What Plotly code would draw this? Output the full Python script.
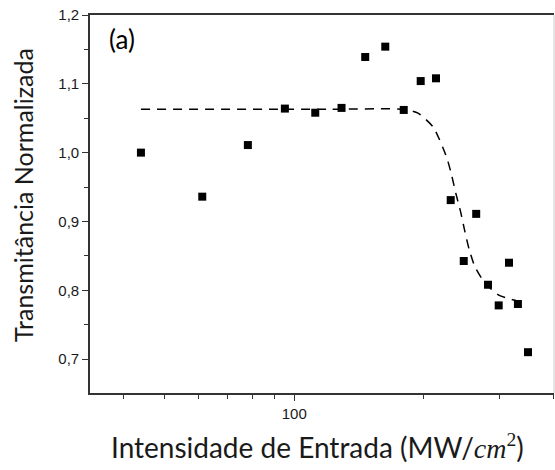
import plotly.graph_objects as go

# Data
intensity = [44.0, 61.1, 78.0, 95.1, 111.9, 128.8, 146.2, 162.8, 179.7, 196.8,
             213.6, 231.1, 247.8, 264.9, 282.2, 298.8, 315.8, 331.2, 349.6]
transmit = [1.000, 0.936, 1.011, 1.064, 1.058, 1.065, 1.139, 1.154, 1.062, 1.104,
            1.108, 0.931, 0.8425, 0.911, 0.808, 0.778, 0.840, 0.780, 0.710]

fit_x = [44.0, 120.0, 180.0, 194.0, 210.5, 226.2, 232.3, 237.7, 243.8, 249.5,
         255.2, 263.2, 277.6, 298.8, 327.8]
fit_y = [1.063, 1.063, 1.063, 1.0575, 1.037, 0.993, 0.967, 0.940, 0.9135, 0.8845,
         0.859, 0.834, 0.8106, 0.793, 0.785]

y_ticks = [0.7, 0.8, 0.9, 1.0, 1.1, 1.2]
y_ticktext = ["0,7", "0,8", "0,9", "1,0", "1,1", "1,2"]
y_minor = [0.75, 0.85, 0.95, 1.05, 1.15]
x_ticks = [100]
x_ticktext = ["100"]
x_minor = [40, 50, 60, 70, 80, 90, 200, 300, 400]

fig = go.Figure()
fig.add_trace(go.Scatter(
    x=fit_x, y=fit_y, mode="lines",
    line=dict(color="black", width=1.5, dash="9px,7px", shape="spline", smoothing=0.6),
    hoverinfo="skip", showlegend=False))
fig.add_trace(go.Scatter(
    x=intensity, y=transmit, mode="markers",
    marker=dict(symbol="square", size=8, color="black"),
    showlegend=False))

axis_color = "#333333"
tick_font = dict(family="Liberation Sans", size=15, color="#1a1a1a")
fig.update_xaxes(
    type="log", range=[1.525, 2.604],
    tickmode="array", tickvals=x_ticks, ticktext=x_ticktext,
    ticks="outside", ticklen=6, tickwidth=1.3, tickcolor=axis_color,
    minor=dict(tickmode="array", tickvals=x_minor, ticks="outside", ticklen=4,
               tickwidth=1.3, tickcolor=axis_color, showgrid=False),
    showline=True, linecolor=axis_color, linewidth=1.6, mirror=True,
    showgrid=False, zeroline=False,
    tickfont=tick_font,
)
fig.update_yaxes(
    range=[0.6507, 1.2],
    tickmode="array", tickvals=y_ticks, ticktext=y_ticktext,
    ticks="outside", ticklen=6, tickwidth=1.3, tickcolor=axis_color,
    minor=dict(tickmode="array", tickvals=y_minor, ticks="outside", ticklen=4,
               tickwidth=1.3, tickcolor=axis_color, showgrid=False),
    showline=True, linecolor=axis_color, linewidth=1.6, mirror=False,
    showgrid=False, zeroline=False,
    tickfont=tick_font,
)

fig.add_shape(type="line", xref="paper", yref="paper", x0=1, x1=1, y0=0, y1=1,
              line=dict(color="#cccccc", width=1))

fig.add_annotation(text="(a)", xref="paper", yref="paper", x=0.036, y=0.937,
                   xanchor="left", yanchor="middle", showarrow=False,
                   font=dict(family="Lato", size=26, color="black"))
fig.add_annotation(text="Transmitância Normalizada", xref="paper", yref="paper",
                   x=0, y=0.524, xshift=-67, textangle=-90, showarrow=False,
                   xanchor="center", yanchor="middle",
                   font=dict(family="Lato", size=25, color="#1a1a1a"))
fig.add_annotation(text="Intensidade de Entrada (MW/<span style='font-family:Liberation Serif'><i>cm</i><sup>2</sup></span>)",
                   xref="paper", yref="paper", x=0.49, y=0, yshift=-53,
                   xanchor="center", yanchor="middle", showarrow=False,
                   font=dict(family="Lato", size=28, color="#1a1a1a"))

fig.update_layout(
    width=555, height=470,
    margin=dict(l=90, r=1, t=15, b=77),
    paper_bgcolor="white", plot_bgcolor="white",
)
fig.write_html("out.html")
